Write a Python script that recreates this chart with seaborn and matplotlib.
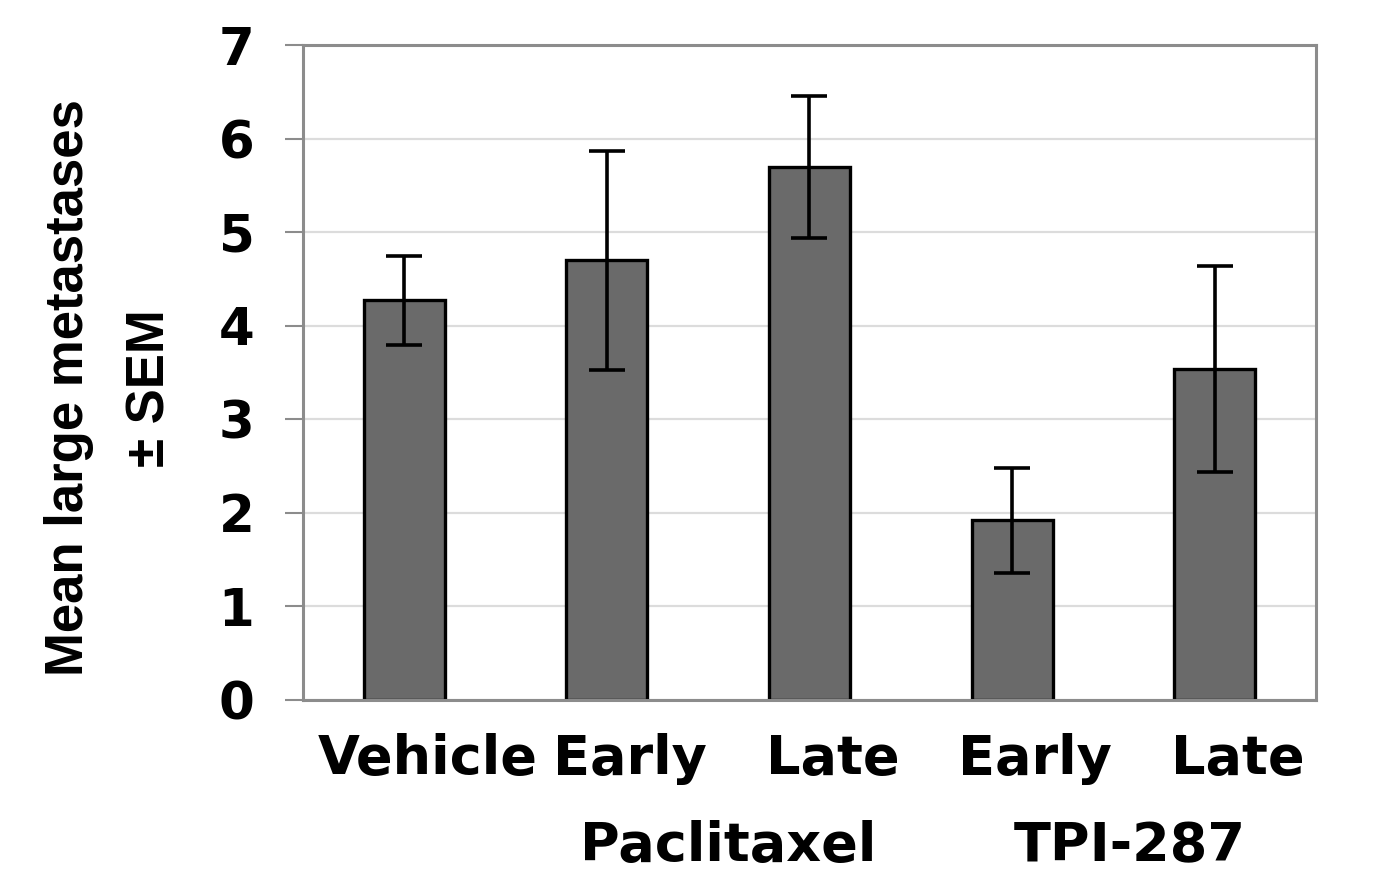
import matplotlib
matplotlib.use("Agg")
import matplotlib.pyplot as plt
import matplotlib.transforms as mtransforms
import seaborn as sns
import pandas as pd

# Mean large metastases per treatment group, with SEM
categories = ["Vehicle", "Early", "Late", "Early ", "Late "]
tick_labels = ["Vehicle", "Early", "Late", "Early", "Late"]
means = [4.27, 4.70, 5.70, 1.92, 3.54]
sem = [0.48, 1.17, 0.76, 0.56, 1.10]
groups = ["Paclitaxel", "TPI-287"]
group_centers = [1.6, 3.58]

sns.set_theme(style="white")
plt.rcParams["font.family"] = ["DejaVu Sans"]
plt.rcParams["font.weight"] = "bold"
plt.rcParams["text.color"] = "black"
plt.rcParams["xtick.color"] = "black"
plt.rcParams["ytick.color"] = "black"

df = pd.DataFrame({"group": categories, "mean": means})

fig = plt.figure(figsize=(13.94, 8.88), dpi=100)
ax = fig.add_axes([0.2174, 0.2117, 0.7266, 0.7376])

sns.barplot(data=df, x="group", y="mean", ax=ax, color="#6a6a6a",
            saturation=1, width=0.4, edgecolor="black", linewidth=2.4,
            errorbar=None)
ax.errorbar(range(len(means)), means, yerr=sem, fmt="none", ecolor="black",
            elinewidth=2.6, capsize=13, capthick=2.6, zorder=5)

ax.set_xlim(-0.5, 4.5)
ax.set_ylim(0, 7)
ax.set_yticks(range(0, 8))
ax.set_xticks(range(len(categories)))
ax.set_xticklabels(tick_labels, fontsize=39, fontweight="bold", color="black")
ax.tick_params(axis="y", labelsize=37, length=13, width=1.5, color="#8c8c8c",
               labelcolor="black", pad=22, left=True)
ax.tick_params(axis="x", length=0, pad=24)
for lbl in ax.get_yticklabels():
    lbl.set_fontweight("bold")

# category labels sit slightly right of the bar centres
shift = mtransforms.ScaledTranslation(0.23, 0, fig.dpi_scale_trans)
for lbl in ax.get_xticklabels():
    lbl.set_transform(lbl.get_transform() + shift)

ax.grid(axis="y", color="#dcdcdc", linewidth=1.6)
ax.set_axisbelow(True)
for s in ax.spines.values():
    s.set_visible(True)
    s.set_color("#8c8c8c")
    s.set_linewidth(2.2)

ax.set_xlabel("")
ax.set_ylabel("")
fig.text(0.0785, 0.563, "Mean large metastases\n\u00b1 SEM", rotation=90,
         ha="center", va="center", fontsize=38, fontweight="bold",
         family=["Liberation Sans", "DejaVu Sans"], color="black",
         linespacing=1.8)

trans = mtransforms.blended_transform_factory(ax.transData, fig.transFigure)
for name, xc in zip(groups, group_centers):
    ax.text(xc, 1 - 846 / 888, name, transform=trans, ha="center",
            va="center", fontsize=39, fontweight="bold", color="black")

fig.savefig("out.png", dpi=100)
